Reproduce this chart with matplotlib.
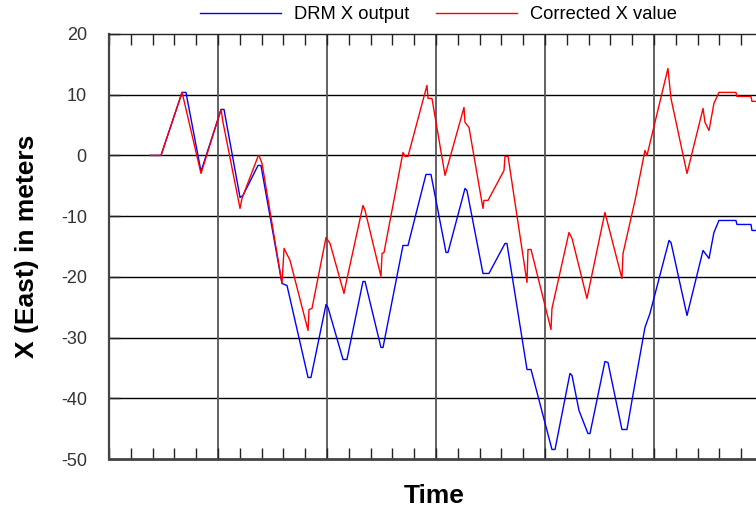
import numpy as np
import matplotlib
matplotlib.use("Agg")
import matplotlib.pyplot as plt
from matplotlib.ticker import MultipleLocator

plt.rcParams["font.family"] = ["Liberation Sans", "DejaVu Sans"]
plt.rcParams["axes.unicode_minus"] = False

# DRM X output (blue)
drm_t = [3.76, 4.77, 6.70, 7.06, 8.44, 10.28, 10.55, 12.02, 12.29, 13.67, 13.94,
         15.87, 16.33, 18.26, 18.53, 19.91, 20.09, 21.47, 21.83, 23.30, 23.49,
         24.95, 25.14, 26.97, 27.43, 29.08, 29.54, 30.92, 31.10, 32.66, 32.84,
         34.31, 34.86, 36.33, 36.51, 38.35, 38.72, 40.64, 40.92, 42.29, 42.48,
         43.12, 43.94, 44.13, 45.50, 45.78, 47.06, 47.52, 47.98, 49.17, 49.63,
         51.38, 51.56, 53.03, 54.50, 55.05, 55.50, 55.96, 57.52, 57.61, 58.90,
         58.99, 59.36]
drm_x = [0.0, 0.0, 10.38, 10.38, -2.64, 7.58, 7.58, -6.92, -6.59, -1.65, -1.65,
         -21.09, -21.42, -36.57, -36.57, -24.55, -25.04, -33.61, -33.61, -20.76, -20.76,
         -31.63, -31.63, -14.83, -14.83, -3.13, -3.13, -15.98, -15.98, -5.44, -5.77,
         -19.44, -19.44, -14.50, -14.50, -35.26, -35.26, -48.43, -48.43, -35.91, -36.24,
         -42.01, -45.80, -45.80, -33.94, -34.10, -45.14, -45.14, -40.36, -28.34, -26.03,
         -14.00, -14.33, -26.36, -15.65, -16.97, -12.69, -10.71, -10.71, -11.37, -11.37,
         -12.36, -12.36]

# Corrected X value (red)
cor_t = [3.76, 4.77, 6.70, 6.79, 8.44, 10.28, 10.46, 12.02, 12.20, 13.67, 13.76,
         14.04, 15.87, 16.06, 16.61, 18.26, 18.35, 18.62, 19.91, 20.28, 21.56,
         21.74, 23.30, 23.49, 24.95, 25.05, 25.23, 26.97, 27.16, 27.43, 29.17,
         29.27, 29.63, 30.83, 32.57, 32.66, 33.03, 34.31, 34.40, 34.77, 36.24,
         36.33, 36.61, 38.35, 38.44, 38.72, 40.55, 40.64, 42.20, 42.48, 43.85,
         45.50, 47.06, 47.16, 48.26, 48.72, 49.17, 49.36, 51.28, 51.56, 53.03,
         54.50, 54.68, 55.05, 55.50, 55.96, 57.52, 57.61, 58.90, 58.99, 59.36]
cor_x = [0.0, 0.0, 10.38, 9.72, -2.97, 7.58, 5.44, -8.73, -7.08, -0.16, 0.0,
         -1.32, -21.09, -15.32, -17.30, -28.83, -25.37, -25.21, -13.51, -14.50, -22.73,
         -21.09, -8.24, -9.06, -19.93, -16.14, -15.98, 0.49, -0.16, -0.16, 11.53,
         9.39, 9.39, -3.29, 7.91, 5.44, 4.61, -8.73, -7.41, -7.41, -2.47,
         -0.16, -0.16, -20.92, -15.49, -15.49, -28.67, -25.21, -12.69, -13.67, -23.56,
         -9.39, -20.26, -16.14, -7.41, -3.29, 0.82, 0.0, 14.33, 9.39, -2.97,
         7.74, 5.44, 4.12, 8.57, 10.38, 10.38, 9.72, 9.72, 8.90, 8.90]

y_ticks = [-50, -40, -30, -20, -10, 0, 10, 20]
x_grid = [10, 20, 30, 40, 50]

fig = plt.figure(figsize=(7.56, 5.12), dpi=100)
ax = fig.add_axes([0.1442, 0.1035, 0.8558, 0.8301])

ax.plot(drm_t, drm_x, color="#0000ff", lw=1.0, label="DRM X output", zorder=3)
ax.plot(cor_t, cor_x, color="#ff0000", lw=1.0, label="Corrected X value", zorder=4)

# grid lines
for v in y_ticks[1:-1]:
    ax.axhline(v, color="black", lw=1.0, zorder=1)
for v in x_grid:
    ax.axvline(v, color="#555555", lw=1.3, zorder=1)

ax.set_xlim(0, 59.36)
ax.set_ylim(-50, 20)
ax.set_yticks(y_ticks)
ax.set_xticks(x_grid)
ax.xaxis.set_minor_locator(MultipleLocator(2))
ax.set_xticklabels([])
ax.tick_params(axis="x", which="both", direction="in", top=True, bottom=True,
               length=8, width=1.0, color="#222222")
ax.tick_params(axis="y", which="major", direction="in", left=True, right=False,
               length=8, width=1.0, color="#222222", labelsize=13,
               labelcolor="#333333", pad=16)

ax.spines["right"].set_visible(False)
ax.spines["left"].set_color("#444444")
ax.spines["left"].set_linewidth(1.6)
ax.spines["bottom"].set_color("#444444")
ax.spines["bottom"].set_linewidth(2.0)
ax.spines["top"].set_color("#222222")
ax.spines["top"].set_linewidth(1.0)

ax.set_xlabel("Time", fontsize=19, fontweight="bold")
ax.xaxis.set_label_coords(0.503, -0.058)
ax.set_ylabel("X (East) in meters", fontsize=19, fontweight="bold")
ax.yaxis.set_label_coords(-0.108, 0.5)

fig.legend(loc="upper center", bbox_to_anchor=(0.58, 1.02), ncol=2, frameon=False,
           fontsize=13.2, handlelength=4.4, handletextpad=0.7, columnspacing=1.5)

fig.savefig("out.png", dpi=100)
